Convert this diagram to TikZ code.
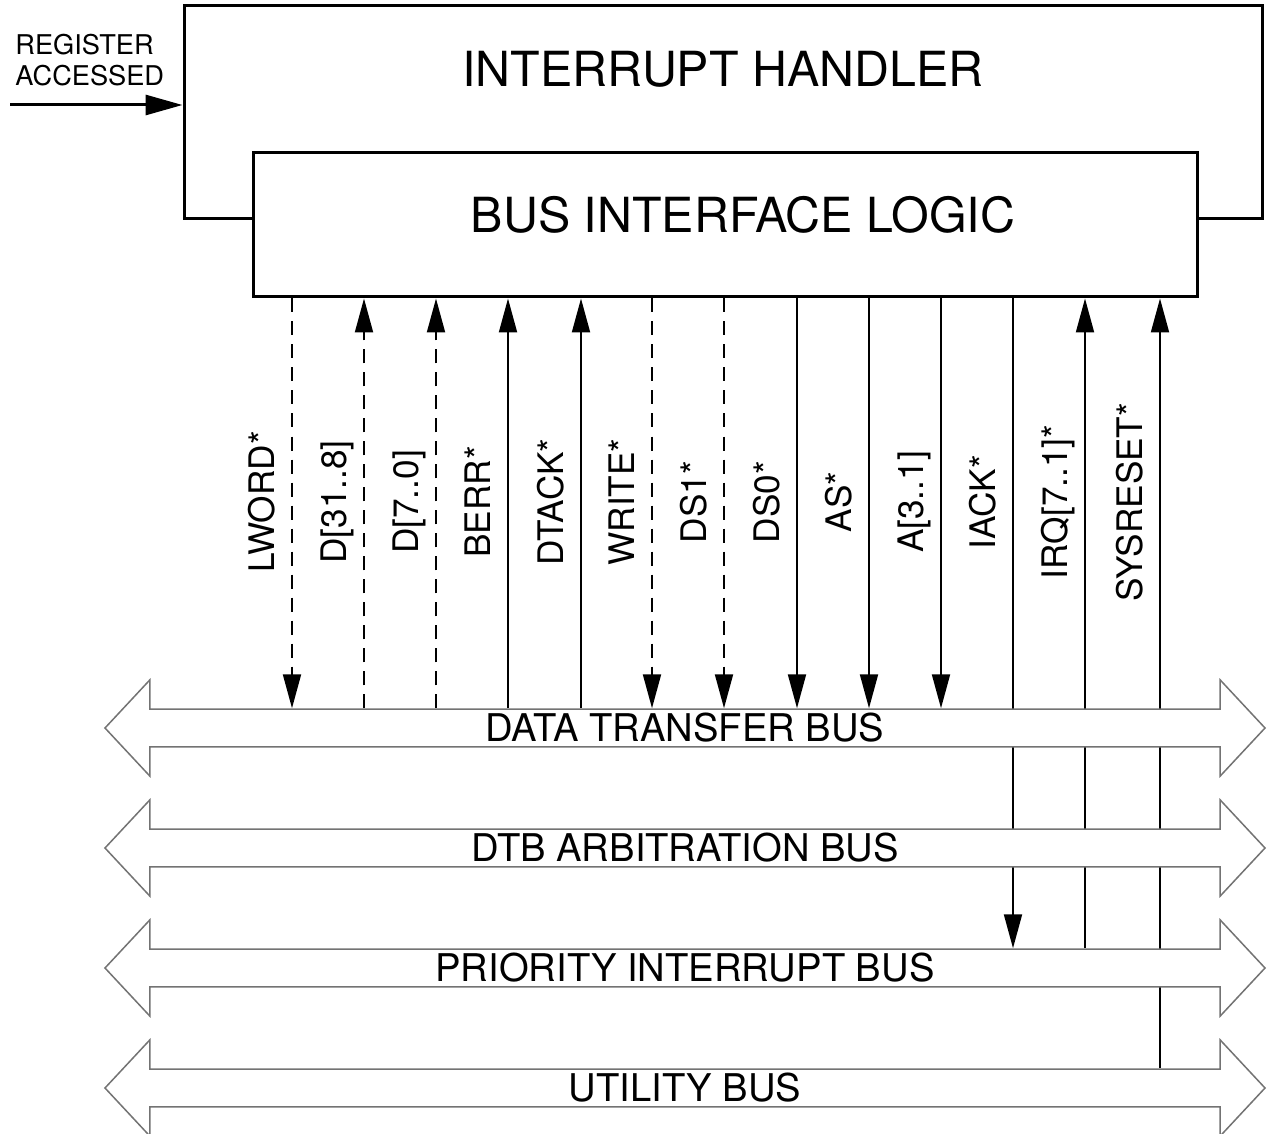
\documentclass[tikz,border=0pt]{standalone}
\usepackage{fontspec}
\setmainfont{TeX Gyre Heros}
\usepackage{tikz}
\usetikzlibrary{arrows.meta, positioning, shapes.arrows, backgrounds}
\definecolor{busgray}{gray}{0.45}

\begin{document}
\begin{tikzpicture}[
  x=0.5pt, y=-0.5pt,
  >={Triangle[length=17pt, width=9pt]},
  block/.style={draw, rectangle, line width=1.5pt, fill=white},
  heading/.style={inner sep=0pt, font=\fontsize{24.2}{26}\selectfont},
  bus/.style={double arrow, draw=busgray, fill=white, line width=0.75pt, minimum height=580pt, minimum width=48pt, double arrow head extend=11.75pt, double arrow tip angle=94, inner sep=0pt, font=\fontsize{19.1}{21}\selectfont},
  sig/.style={xshift=-9pt, rotate=90, anchor=base, inner sep=0pt, font=\fontsize{17.6}{19}\selectfont},
  wire/.style={line width=1pt},
  dashwire/.style={wire, dash pattern=on 7pt off 4.5pt}
]
\useasboundingbox (0,0) rectangle (1270,1134);

% handler and bus logic
\node[block, minimum width=539pt, minimum height=106.5pt] (ih) at (723,112.5) {};
\node[heading, below=23pt of ih.north] (ihtext) {INTERRUPT HANDLER};
\node[block, minimum width=472pt, minimum height=72pt] (bil) at (725,225) {};
\node[heading, below=22pt of bil.north, xshift=9pt] (biltext) {BUS INTERFACE LOGIC};

\coordinate (regin) at (10,105);
\node[anchor=south west, inner sep=0pt, align=left, font=\fontsize{13.6}{15.5}\selectfont] (regtext) at (15,86) {REGISTER\\ACCESSED};
\draw[line width=1.5pt, -{Triangle[length=18.5pt, width=10pt]}] (regin) -- (regin -| ih.west);

% backplane buses
\node[bus] (dtb) at (685,728) {DATA TRANSFER BUS};
\node[bus] (arb) at (685,848) {DTB ARBITRATION BUS};
\node[bus] (pib) at (685,968) {PRIORITY INTERRUPT BUS};
\node[bus] (util) at (685,1088) {UTILITY BUS};

% signals
\coordinate (lw) at (292,502);
\coordinate (dhi) at (364,502);
\coordinate (dlo) at (436,502);
\coordinate (berr) at (508,502);
\coordinate (dtack) at (581,502);
\coordinate (wr) at (652,502);
\coordinate (ds1) at (724,502);
\coordinate (ds0) at (797,502);
\coordinate (as) at (869,502);
\coordinate (addr) at (941,502);
\coordinate (iack) at (1013,502);
\coordinate (irq) at (1085,502);
\coordinate (rst) at (1160,502);

\node[sig] (lwtext) at (lw) {LWORD*};
\node[sig] (dhitext) at (dhi) {D[31..8]};
\node[sig] (dlotext) at (dlo) {D[7..0]};
\node[sig] (berrtext) at (berr) {BERR*};
\node[sig] (dtacktext) at (dtack) {DTACK*};
\node[sig] (wrtext) at (wr) {WRITE*};
\node[sig] (ds1text) at (ds1) {DS1*};
\node[sig] (ds0text) at (ds0) {DS0*};
\node[sig] (astext) at (as) {AS*};
\node[sig] (addrtext) at (addr) {A[3..1]};
\node[sig] (iacktext) at (iack) {IACK*};
\node[sig] (irqtext) at (irq) {IRQ[7..1]*};
\node[sig] (rsttext) at (rst) {SYSRESET*};

\begin{scope}[on background layer]
\draw[dashwire, ->] (bil.south -| lw) -- (dtb.north -| lw);
\draw[dashwire, ->] (dtb.north -| dhi) -- (bil.south -| dhi);
\draw[dashwire, ->] (dtb.north -| dlo) -- (bil.south -| dlo);
\draw[wire, ->] (dtb.north -| berr) -- (bil.south -| berr);
\draw[wire, ->] (dtb.north -| dtack) -- (bil.south -| dtack);
\draw[dashwire, ->] (bil.south -| wr) -- (dtb.north -| wr);
\draw[dashwire, ->] (bil.south -| ds1) -- (dtb.north -| ds1);
\draw[wire, ->] (bil.south -| ds0) -- (dtb.north -| ds0);
\draw[wire, ->] (bil.south -| as) -- (dtb.north -| as);
\draw[wire, ->] (bil.south -| addr) -- (dtb.north -| addr);
\draw[wire, ->] (bil.south -| iack) -- (pib.north -| iack);
\draw[wire, ->] (pib.north -| irq) -- (bil.south -| irq);
\draw[wire, ->] (util.north -| rst) -- (bil.south -| rst);
\end{scope}
\end{tikzpicture}
\end{document}
